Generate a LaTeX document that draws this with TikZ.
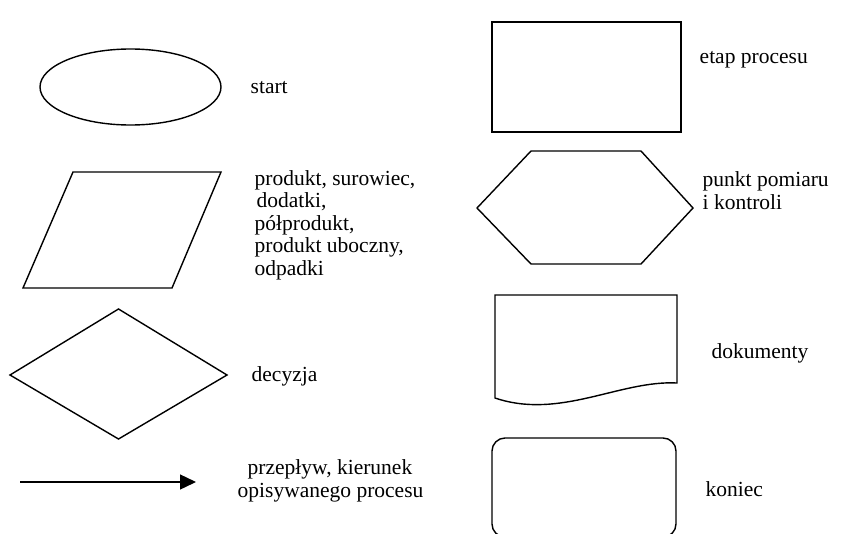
\documentclass[tikz,border=0pt]{standalone}
\usepackage{fontspec}
\setmainfont{Liberation Serif}
\usetikzlibrary{shapes.geometric, arrows.meta}

\begin{document}
\begin{tikzpicture}[x=1pt, y=-1pt, line width=1.4pt,
        legendtext/.style={anchor=base west, inner sep=0pt, align=left,
                           font=\fontsize{21.5}{22.5}\selectfont},
        shapebox/.style={draw, inner sep=0pt}]
        \useasboundingbox (0,0) rectangle (857,533);

        % Left column symbols
        \node[shapebox, ellipse, minimum width=181pt, minimum height=76pt]
              (startsym) at (130.5,87) {};
        \draw (73,172) -- (221,172) -- (172,288) -- (23,288) -- cycle;
        \draw (10,375) -- (118.5,309) -- (227,375) -- (118.5,439) -- cycle;
        \coordinate (flowA) at (20,482);
        \coordinate (flowB) at (196,482);
        \draw[-{Triangle[length=16pt, width=15pt]}] (flowA) -- (flowB);

        % Right column symbols
        \node[shapebox, rectangle, minimum width=189pt, minimum height=110pt]
              (stepsym) at (586.5,77) {};
        \draw (477,208) -- (531,151) -- (641,151) -- (693,208)
              -- (641,264) -- (531,264) -- cycle;
        \draw (495,295) -- (677,295) -- (677,383)
              .. controls (620,380) and (560,420) .. (495,398) -- cycle;
        \draw[rounded corners=13pt] (492,438) rectangle (676,537);

        % Descriptions (base = last line)
        \foreach \name/\pos/\txt in {
            startlbl/{250,93}/start,
            inputlbl/{254,275}/{produkt, surowiec,\\\hspace*{2pt}dodatki,\\półprodukt,\\produkt uboczny,\\odpadki},
            declbl/{251,381}/decyzja,
            flowlbl/{237,497}/{\hspace*{10pt}przepływ, kierunek\\opisywanego procesu},
            steplbl/{699,63}/etap procesu,
            measlbl/{702,209}/{punkt pomiaru\\i kontroli},
            doclbl/{711,358}/dokumenty,
            endlbl/{705,496}/koniec
        } {
            \node[legendtext] (\name) at (\pos) {\txt};
        }
\end{tikzpicture}
\end{document}
